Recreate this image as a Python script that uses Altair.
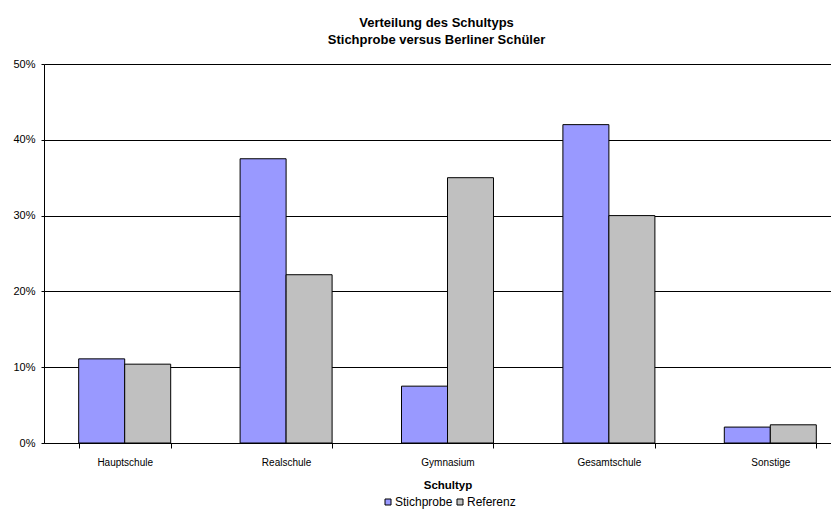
import altair as alt
import pandas as pd

categories = ["Hauptschule", "Realschule", "Gymnasium", "Gesamtschule", "Sonstige"]
series = ["Stichprobe", "Referenz"]
stichprobe = [0.111, 0.375, 0.075, 0.420, 0.021]
referenz = [0.104, 0.222, 0.350, 0.300, 0.024]
y_ticks = [0, 0.1, 0.2, 0.3, 0.4, 0.5]
colors = ["#9999FF", "#C0C0C0"]

rows = []
for i, c in enumerate(categories):
    rows.append({"Schultyp": c, "Serie": series[0], "Anteil": stichprobe[i]})
    rows.append({"Schultyp": c, "Serie": series[1], "Anteil": referenz[i]})
df = pd.DataFrame(rows)

FONT = "Liberation Sans"

chart = alt.Chart(df).mark_bar(stroke="black", strokeWidth=1).encode(
    x=alt.X(
        "Schultyp:N",
        sort=categories,
        scale=alt.Scale(paddingInner=0.43, paddingOuter=0.215),
        axis=alt.Axis(
            title="Schultyp",
            labelAngle=0,
            tickBand="extent",
            tickSize=5,
            tickColor="black",
            domainColor="black",
            labelFont=FONT,
            labelFontSize=10,
            labelColor="black",
            labelPadding=9,
            titleFont=FONT,
            titleFontSize=11.5,
            titleFontWeight="bold",
            titleColor="black",
            titlePadding=12,
        ),
    ),
    xOffset=alt.XOffset("Serie:N", sort=series, scale=alt.Scale(paddingInner=0, paddingOuter=0)),
    y=alt.Y(
        "Anteil:Q",
        scale=alt.Scale(domain=[0, 0.5], nice=False),
        axis=alt.Axis(
            title=None,
            values=y_ticks,
            format=".0%",
            grid=True,
            gridColor="black",
            gridOpacity=1,
            gridWidth=1,
            tickSize=3,
            tickColor="black",
            domainColor="black",
            labelFont=FONT,
            labelFontSize=11,
            labelColor="black",
            labelPadding=6,
        ),
    ),
    color=alt.Color(
        "Serie:N",
        sort=series,
        scale=alt.Scale(domain=series, range=colors),
        legend=alt.Legend(
            title=None,
            orient="none",
            legendX=338,
            legendY=432,
            padding=0,
            direction="horizontal",
            symbolType="square",
            symbolSize=36,
            symbolStrokeColor="black",
            symbolStrokeWidth=1,
            symbolOpacity=1,
            labelFont=FONT,
            labelFontSize=12,
            labelColor="black",
            labelOffset=1,
            columnPadding=1,
        ),
    ),
).properties(
    width=807,
    height=379,
    autosize="none",
    padding={"left": 36, "top": 56, "right": -20, "bottom": 69},
    title=alt.TitleParams(
        text=["Verteilung des Schultyps", "Stichprobe versus Berliner Schüler"],
        font=FONT,
        fontSize=13,
        fontWeight="bold",
        color="black",
        lineHeight=17,
        anchor="middle",
        dx=-11,
        offset=11,
    ),
).configure_view(stroke=None).configure(background="white")

chart.save("out.html", embed_options={"renderer": "svg", "actions": False})
